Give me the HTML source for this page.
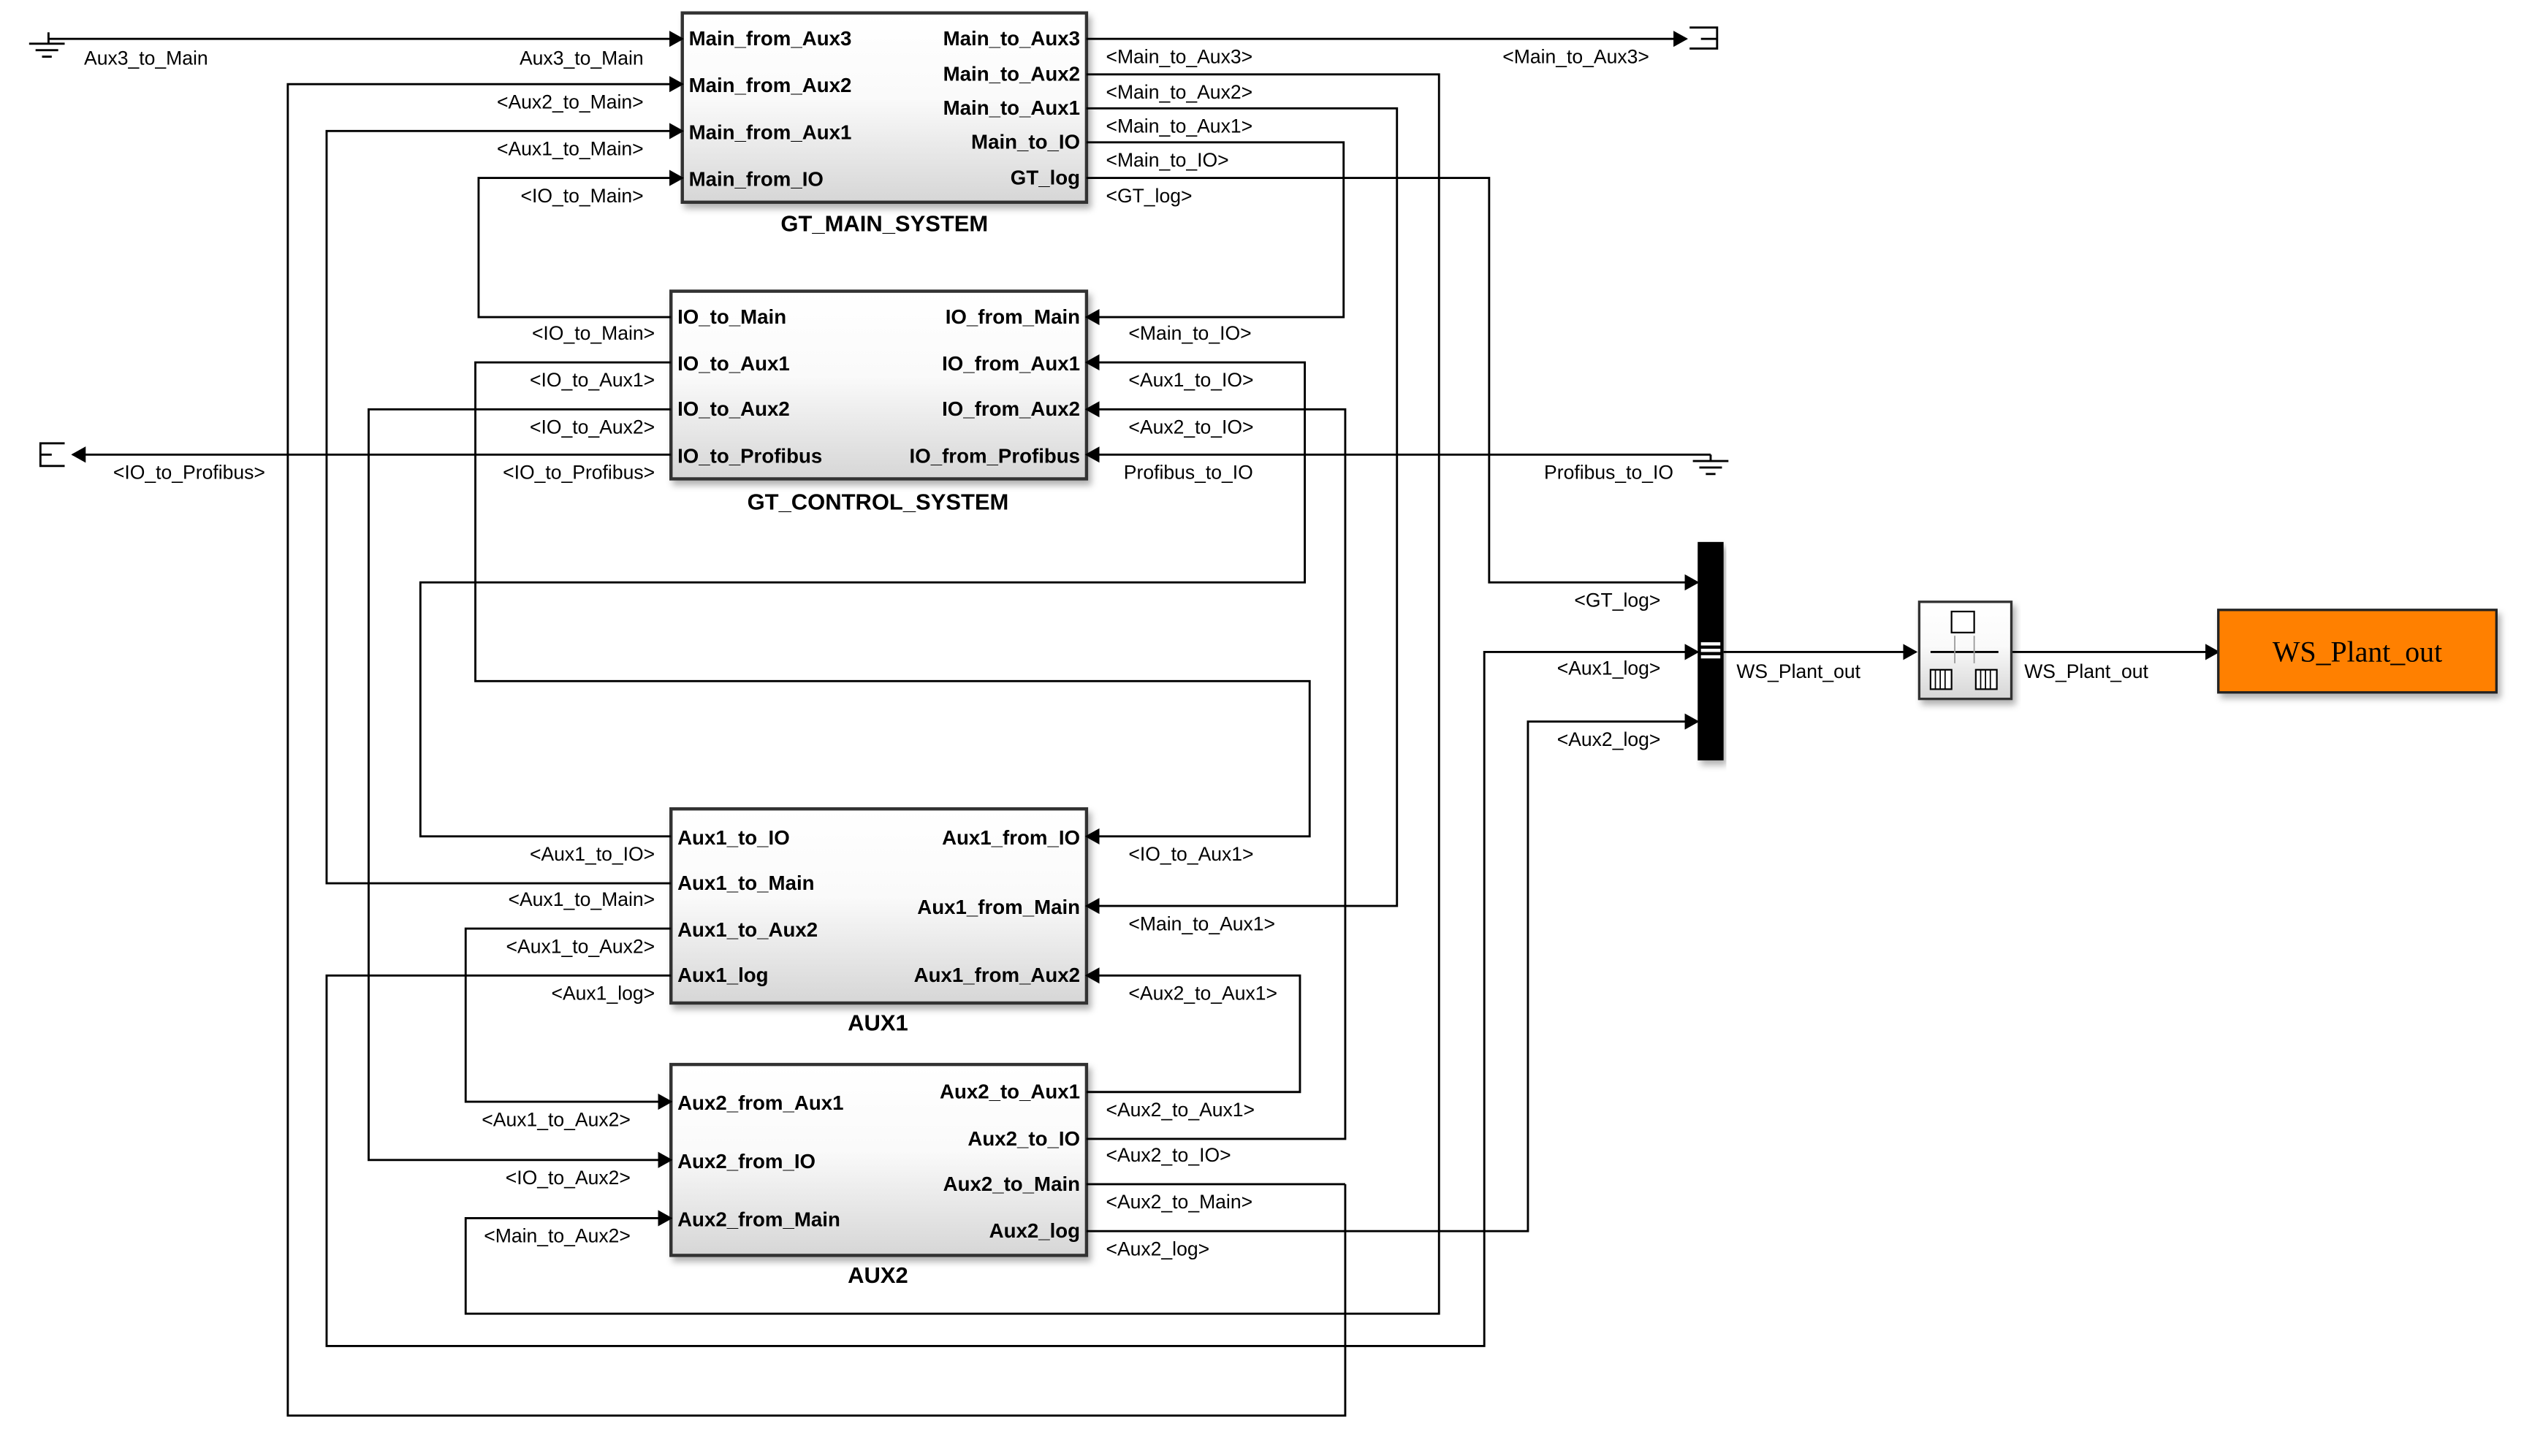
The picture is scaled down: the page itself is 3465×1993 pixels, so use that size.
<!DOCTYPE html>
<html><head><meta charset="utf-8"><style>html,body{margin:0;padding:0;background:#fff}svg{display:block}</style></head>
<body>
<svg xmlns="http://www.w3.org/2000/svg" width="3465" height="1993" viewBox="0 0 1566 900" preserveAspectRatio="none">
<defs>
<marker id="a" markerWidth="10" markerHeight="10" refX="8" refY="5" orient="auto" markerUnits="userSpaceOnUse"><path d="M0,0 L9,5 L0,10 z" fill="#000"/></marker>
<linearGradient id="g" x1="0" y1="0" x2="0" y2="1"><stop offset="0" stop-color="#fff"/><stop offset="0.45" stop-color="#fafafa"/><stop offset="1" stop-color="#d6d6d6"/></linearGradient>
<filter id="s" x="-5%" y="-5%" width="115%" height="125%"><feDropShadow dx="2" dy="3" stdDeviation="2" flood-color="#000" flood-opacity="0.3"/></filter>
</defs>
<style>
text{font-family:"Liberation Sans",sans-serif}
.p{font-size:12.5px;font-weight:bold}
.l{font-size:12px}
.t{font-size:14px;font-weight:bold}
.r{text-anchor:end}
.c{text-anchor:middle}
.w{fill:none;stroke:#000;stroke-width:1.3}
</style>
<rect x="422" y="8" width="250" height="117" fill="url(#g)" stroke="#333" stroke-width="2" filter="url(#s)"/>
<rect x="415" y="180" width="257" height="116" fill="url(#g)" stroke="#333" stroke-width="2" filter="url(#s)"/>
<rect x="415" y="500" width="257" height="120" fill="url(#g)" stroke="#333" stroke-width="2" filter="url(#s)"/>
<rect x="415" y="658" width="257" height="118" fill="url(#g)" stroke="#333" stroke-width="2" filter="url(#s)"/>
<text class="t c" x="547" y="143">GT_MAIN_SYSTEM</text>
<text class="t c" x="543" y="315">GT_CONTROL_SYSTEM</text>
<text class="t c" x="543" y="637">AUX1</text>
<text class="t c" x="543" y="793">AUX2</text>
<text class="p" x="426" y="28">Main_from_Aux3</text>
<text class="p" x="426" y="57">Main_from_Aux2</text>
<text class="p" x="426" y="86">Main_from_Aux1</text>
<text class="p" x="426" y="115">Main_from_IO</text>
<text class="p r" x="668" y="28">Main_to_Aux3</text>
<text class="p r" x="668" y="50">Main_to_Aux2</text>
<text class="p r" x="668" y="71">Main_to_Aux1</text>
<text class="p r" x="668" y="92">Main_to_IO</text>
<text class="p r" x="668" y="114">GT_log</text>
<text class="p" x="419" y="200">IO_to_Main</text>
<text class="p" x="419" y="229">IO_to_Aux1</text>
<text class="p" x="419" y="257">IO_to_Aux2</text>
<text class="p" x="419" y="286">IO_to_Profibus</text>
<text class="p r" x="668" y="200">IO_from_Main</text>
<text class="p r" x="668" y="229">IO_from_Aux1</text>
<text class="p r" x="668" y="257">IO_from_Aux2</text>
<text class="p r" x="668" y="286">IO_from_Profibus</text>
<text class="p" x="419" y="522">Aux1_to_IO</text>
<text class="p" x="419" y="550">Aux1_to_Main</text>
<text class="p" x="419" y="579">Aux1_to_Aux2</text>
<text class="p" x="419" y="607">Aux1_log</text>
<text class="p r" x="668" y="522">Aux1_from_IO</text>
<text class="p r" x="668" y="565">Aux1_from_Main</text>
<text class="p r" x="668" y="607">Aux1_from_Aux2</text>
<text class="p" x="419" y="686">Aux2_from_Aux1</text>
<text class="p" x="419" y="722">Aux2_from_IO</text>
<text class="p" x="419" y="758">Aux2_from_Main</text>
<text class="p r" x="668" y="679">Aux2_to_Aux1</text>
<text class="p r" x="668" y="708">Aux2_to_IO</text>
<text class="p r" x="668" y="736">Aux2_to_Main</text>
<text class="p r" x="668" y="765">Aux2_log</text>
<g class="w">
<polyline points="30,24 422,24" marker-end="url(#a)"/>
<polyline points="832,732 832,875 178,875 178,52 422,52" marker-end="url(#a)"/>
<polyline points="415,546 202,546 202,81 422,81" marker-end="url(#a)"/>
<polyline points="415,196 296,196 296,110 422,110" marker-end="url(#a)"/>
<polyline points="672,732 832,732"/>
<polyline points="672,24 1043,24" marker-end="url(#a)"/>
<polyline points="672,46 890,46 890,812 288,812 288,753 415,753" marker-end="url(#a)"/>
<polyline points="672,67 864,67 864,560 672,560" marker-end="url(#a)"/>
<polyline points="672,88 831,88 831,196 672,196" marker-end="url(#a)"/>
<polyline points="672,110 921,110 921,360 1050,360" marker-end="url(#a)"/>
<polyline points="415,224 294,224 294,421 810,421 810,517 672,517" marker-end="url(#a)"/>
<polyline points="415,253 228,253 228,717 415,717" marker-end="url(#a)"/>
<polyline points="415,281 45,281" marker-end="url(#a)"/>
<polyline points="415,517 260,517 260,360 807,360 807,224 672,224" marker-end="url(#a)"/>
<polyline points="672,704 832,704 832,253 672,253" marker-end="url(#a)"/>
<polyline points="1058,281 672,281" marker-end="url(#a)"/>
<polyline points="415,603 202,603 202,832 918,832 918,403 1050,403" marker-end="url(#a)"/>
<polyline points="672,675 804,675 804,603 672,603" marker-end="url(#a)"/>
<polyline points="415,574 288,574 288,681 415,681" marker-end="url(#a)"/>
<polyline points="672,761 945,761 945,446 1050,446" marker-end="url(#a)"/>
<polyline points="1066,403 1185,403" marker-end="url(#a)"/>
<polyline points="1244,403 1372,403" marker-end="url(#a)"/>
</g>
<g stroke="#000" stroke-width="1.3" fill="none">
<path d="M30,20 V27 M18,27 H40 M22,31 H36 M26,35 H32"/>
<path d="M1058,281 V285 M1047,285 H1069 M1051,289 H1065 M1055,293 H1061"/>
<path d="M1045,17 H1062 V30 H1045 M1052,24 H1062"/>
<path d="M40,274 H25 V288 H40 M25,281 H32"/>
</g>
<text class="l" x="52" y="40">Aux3_to_Main</text>
<text class="l r" x="398" y="40">Aux3_to_Main</text>
<text class="l r" x="398" y="67">&lt;Aux2_to_Main&gt;</text>
<text class="l r" x="398" y="96">&lt;Aux1_to_Main&gt;</text>
<text class="l r" x="398" y="125">&lt;IO_to_Main&gt;</text>
<text class="l" x="684" y="39">&lt;Main_to_Aux3&gt;</text>
<text class="l r" x="1020" y="39">&lt;Main_to_Aux3&gt;</text>
<text class="l" x="684" y="61">&lt;Main_to_Aux2&gt;</text>
<text class="l" x="684" y="82">&lt;Main_to_Aux1&gt;</text>
<text class="l" x="684" y="103">&lt;Main_to_IO&gt;</text>
<text class="l" x="684" y="125">&lt;GT_log&gt;</text>
<text class="l r" x="405" y="210">&lt;IO_to_Main&gt;</text>
<text class="l r" x="405" y="239">&lt;IO_to_Aux1&gt;</text>
<text class="l r" x="405" y="268">&lt;IO_to_Aux2&gt;</text>
<text class="l r" x="405" y="296">&lt;IO_to_Profibus&gt;</text>
<text class="l" x="70" y="296">&lt;IO_to_Profibus&gt;</text>
<text class="l" x="698" y="210">&lt;Main_to_IO&gt;</text>
<text class="l" x="698" y="239">&lt;Aux1_to_IO&gt;</text>
<text class="l" x="698" y="268">&lt;Aux2_to_IO&gt;</text>
<text class="l" x="695" y="296">Profibus_to_IO</text>
<text class="l r" x="1035" y="296">Profibus_to_IO</text>
<text class="l r" x="1027" y="375">&lt;GT_log&gt;</text>
<text class="l r" x="1027" y="417">&lt;Aux1_log&gt;</text>
<text class="l r" x="1027" y="461">&lt;Aux2_log&gt;</text>
<text class="l r" x="405" y="532">&lt;Aux1_to_IO&gt;</text>
<text class="l r" x="405" y="560">&lt;Aux1_to_Main&gt;</text>
<text class="l r" x="405" y="589">&lt;Aux1_to_Aux2&gt;</text>
<text class="l r" x="405" y="618">&lt;Aux1_log&gt;</text>
<text class="l" x="698" y="532">&lt;IO_to_Aux1&gt;</text>
<text class="l" x="698" y="575">&lt;Main_to_Aux1&gt;</text>
<text class="l" x="698" y="618">&lt;Aux2_to_Aux1&gt;</text>
<text class="l r" x="390" y="696">&lt;Aux1_to_Aux2&gt;</text>
<text class="l r" x="390" y="732">&lt;IO_to_Aux2&gt;</text>
<text class="l r" x="390" y="768">&lt;Main_to_Aux2&gt;</text>
<text class="l" x="684" y="690">&lt;Aux2_to_Aux1&gt;</text>
<text class="l" x="684" y="718">&lt;Aux2_to_IO&gt;</text>
<text class="l" x="684" y="747">&lt;Aux2_to_Main&gt;</text>
<text class="l" x="684" y="776">&lt;Aux2_log&gt;</text>
<rect x="1050" y="335" width="16" height="135" fill="#000" filter="url(#s)"/>
<rect x="1052" y="397" width="12" height="2" fill="#fff"/><rect x="1052" y="401" width="12" height="2" fill="#fff"/><rect x="1052" y="405" width="12" height="2" fill="#fff"/>
<text class="l" x="1074" y="419">WS_Plant_out</text>
<rect x="1187" y="372" width="57" height="60" fill="url(#g)" stroke="#333" stroke-width="1.5" filter="url(#s)"/>
<rect x="1207" y="378" width="14" height="13" fill="#fff" stroke="#000" stroke-width="1"/>
<line x1="1194" y1="403" x2="1236" y2="403" stroke="#000" stroke-width="1.3"/>
<line x1="1209" y1="393" x2="1209" y2="410" stroke="#999" stroke-width="0.8"/>
<line x1="1221" y1="393" x2="1221" y2="410" stroke="#999" stroke-width="0.8"/>
<rect x="1194" y="414" width="13" height="12" fill="#fff" stroke="#000" stroke-width="1"/>
<rect x="1222" y="414" width="13" height="12" fill="#fff" stroke="#000" stroke-width="1"/>
<path d="M1197,414V426M1200,414V426M1203,414V426M1225,414V426M1228,414V426M1231,414V426" stroke="#000" stroke-width="0.8"/>
<text class="l" x="1252" y="419">WS_Plant_out</text>
<rect x="1372" y="377" width="172" height="51" fill="#ff8000" stroke="#222" stroke-width="1.5" filter="url(#s)"/>
<text x="1458" y="409" text-anchor="middle" style="font-family:'Liberation Serif',serif;font-size:18px">WS_Plant_out</text>
</svg>
</body></html>
